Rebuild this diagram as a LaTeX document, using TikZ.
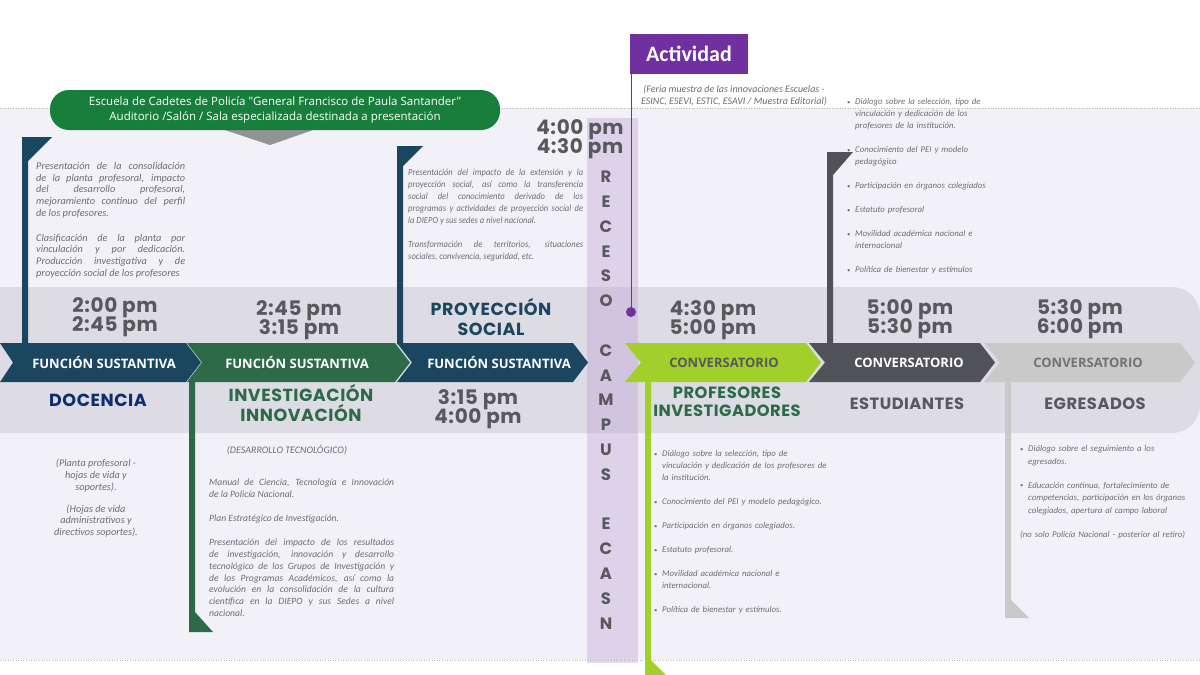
\documentclass[tikz,border=0pt]{standalone}
\usepackage{fontspec}
\setmainfont{Carlito}
\newfontfamily\popf{Poppins}
\newfontfamily\popw[LetterSpace=3]{Poppins}
\newfontfamily\osf{Open Sans}
\newfontfamily\condf[FakeStretch=0.92]{Carlito}
\definecolor{panel}{HTML}{F3F1F8}
\definecolor{band}{HTML}{DDDBE3}
\definecolor{navy}{HTML}{1B4660}
\definecolor{dgreen}{HTML}{2D6A47}
\definecolor{lgreen}{HTML}{A2CF2A}
\definecolor{dgray}{HTML}{505257}
\definecolor{lgray}{HTML}{C9C9C9}
\definecolor{txt}{HTML}{6D6E71}
\definecolor{timec}{HTML}{58595B}
\definecolor{bannerc}{HTML}{177F3B}
\definecolor{purp}{HTML}{7030A0}
\definecolor{docc}{HTML}{0E2D6E}
\definecolor{recc}{RGB}{190,160,215}
\newcommand\chevron[4]{\fill[#1] (#2,343) -- (#3,343) -- (#3+15,362.5) -- (#3,382) -- (#2,382) -- (#2+#4,362.5) -- cycle;}
\newcommand\bitem[1]{\noindent\hangindent=8pt\hangafter=1\makebox[8pt][l]{\raisebox{0.8pt}{\fontsize{6.5}{6.5}\selectfont\textbullet}}#1\par\vspace{12pt}}
\tikzset{
 timelbl/.style={font=\popw\bfseries\fontsize{20}{19}\selectfont, text=timec, align=center, inner sep=0pt},
 caplbl/.style={font=\popw\bfseries\fontsize{17.5}{20}\selectfont, align=center, inner sep=0pt},
 capsm/.style={font=\popw\bfseries\fontsize{16.3}{17.5}\selectfont, align=center, inner sep=0pt},
 chevlbl/.style={font=\osf\bfseries\fontsize{13}{13}\selectfont, text=white, inner sep=0pt},
 bodyA/.style={text=txt, align=justify, inner sep=0pt, anchor=north west},
 bodyB/.style={font=\itshape\fontsize{8.8}{12}\selectfont, text=txt, inner sep=0pt, anchor=north west},
 dotline/.style={draw=gray!55, dotted, line width=0.6pt},
}
\begin{document}
\setlength{\lineskiplimit}{-30pt}
\begin{tikzpicture}[x=1pt,y=-1pt]
\useasboundingbox (0,0) rectangle (1200,675);
\clip (0,0) rectangle (1200,675);
\fill[white] (0,0) rectangle (1200,675);
\fill[panel] (0,108) rectangle (1200,660);
\draw[dotline] (0,108) -- (1200,108);
\draw[dotline] (0,660) -- (1200,660);
\fill[band, rounded corners=28pt] (-60,287) rectangle (1200,433);
% receso column
\fill[recc, opacity=0.38] (587,118) rectangle (638,663);
% flags
\fill[navy] (22,137) -- (52,137) -- (28,161) -- (28,344) -- (22,344) -- cycle;
\fill[navy] (397,146) -- (423,146) -- (403,166) -- (403,344) -- (397,344) -- cycle;
\fill[dgray] (827,152) -- (853,152) -- (833,175) -- (833,344) -- (827,344) -- cycle;
\fill[dgreen] (189,381) -- (195,381) -- (195,612) -- (213,632) -- (189,632) -- cycle;
\fill[lgreen] (645,381) -- (651,381) -- (651,660) -- (666,675) -- (645,675) -- cycle;
\fill[lgray] (1005,381) -- (1011,381) -- (1011,600) -- (1029,618) -- (1005,618) -- cycle;
% chevrons
\chevron{navy}{0}{186}{13}
\chevron{dgreen}{187}{395}{15}
\chevron{navy}{397}{573}{15}
\chevron{lgreen}{625}{806}{16}
\chevron{dgray}{809}{980}{16}
\chevron{lgray}{984}{1180}{16}
\node[chevlbl] (c1) at (104,362.5) {FUNCIÓN SUSTANTIVA};
\node[chevlbl] (c2) at (297,362.5) {FUNCIÓN SUSTANTIVA};
\node[chevlbl] (c3) at (499,362.5) {FUNCIÓN SUSTANTIVA};
\node[chevlbl, text=timec] (c4) at (724,362.5) {CONVERSATORIO};
\node[chevlbl] (c5) at (909,362.5) {CONVERSATORIO};
\node[chevlbl, text=timec!85] (c6) at (1088,362.5) {CONVERSATORIO};
% banner
\fill[gray!85] (222,129) -- (316,129) -- (270,145) -- cycle;
\node[fill=bannerc, rounded corners=19pt, minimum width=450pt, minimum height=40pt, inner sep=0pt,
  text=white, align=center, font=\osf\fontsize{11.5}{15}\selectfont] (banner) at (275,110)
  {Escuela de Cadetes de Policía "General Francisco de Paula Santander"\\Auditorio /Salón / Sala especializada destinada a presentación};
% actividad
\node[fill=purp, minimum width=118pt, minimum height=40pt, inner sep=0pt, text=white,
  font=\bfseries\fontsize{22}{22}\selectfont] (act) at (689,53.5) {Actividad};
\node[font=\itshape\fontsize{10}{12}\selectfont, text=txt, align=center, inner sep=0pt] (feria) at (734,96)
  {(Feria muestra de las innovaciones Escuelas -\\ESINC, ESEVI, ESTIC, ESAVI / Muestra Editorial)};
\coordinate (actdot) at (631,312);
\draw[purp, line width=1pt] (actdot |- act.south) -- (actdot);
\fill[purp] (actdot) circle (5);
% receso text
\node[timelbl] (t4) at (580,139) {4:00 pm\\4:30 pm};
\node[font=\popf\bfseries\fontsize{16.5}{24.8}\selectfont, text=timec, align=center, inner sep=0pt] (receso) at (606,400)
  {R\\E\\C\\E\\S\\O\\\mbox{}\\C\\A\\M\\P\\U\\S\\\mbox{}\\E\\C\\A\\S\\N};
% times and titles
\node[timelbl] (t1) at (115,317) {2:00 pm\\2:45 pm};
\node[timelbl] (t2) at (299,320.5) {2:45 pm\\3:15 pm};
\node[caplbl, text=navy] (proy) at (491,317) {PROYECCIÓN\\SOCIAL};
\node[timelbl] (t5) at (713,320) {4:30 pm\\5:00 pm};
\node[timelbl] (t6) at (910,319) {5:00 pm\\5:30 pm};
\node[timelbl] (t7) at (1080,319) {5:30 pm\\6:00 pm};
\node[caplbl, text=docc] (doc) at (98,400) {DOCENCIA};
\node[caplbl, text=dgreen] (inv) at (301,403) {INVESTIGACIÓN\\INNOVACIÓN};
\node[timelbl] (t3) at (478,409.5) {3:15 pm\\4:00 pm};
\node[capsm, text=dgreen] (prof) at (727,401.5) {PROFESORES\\INVESTIGADORES};
\node[capsm, text=timec] (est) at (907,404) {ESTUDIANTES};
\node[capsm, text=timec] (egr) at (1095,404) {EGRESADOS};
% body texts top
\node[bodyA, font=\itshape\fontsize{10.3}{11.7}\selectfont, text width=149pt] (b1) at (36,162)
  {Presentación de la consolidación\linebreak de la planta profesoral, impacto\linebreak del desarrollo profesoral,\linebreak mejoramiento continuo del perfil\linebreak de los profesores.\par\vspace{13.3pt}
   Clasificación de la planta por\linebreak vinculación y por dedicación.\linebreak Producción investigativa y de\linebreak proyección social de los profesores};
\node[bodyA, font=\condf\itshape\fontsize{9.3}{12}\selectfont, text width=175pt] (b3) at (408,168.5)
  {Presentación del impacto de la extensión y la\linebreak proyección social, así como la transferencia\linebreak social del conocimiento derivado de los\linebreak programas y actividades de proyección social de\linebreak la DIEPO y sus sedes a nivel nacional.\par\vspace{12pt}
   Transformación de territorios, situaciones\linebreak sociales, convivencia, seguridad, etc.};
\node[bodyB, align=left, text width=160pt] (b5) at (847,98.5)
  {\bitem{Diálogo sobre la selección, tipo de\newline vinculación y dedicación de los\newline profesores de la institución.}
   \bitem{Conocimiento del PEI y modelo\newline pedagógico}
   \bitem{Participación en órganos colegiados}
   \bitem{Estatuto profesoral}
   \bitem{Movilidad académica nacional e\newline internacional}
   \bitem{Política de bienestar y estímulos}};
% body texts bottom
\node[font=\itshape\fontsize{10.3}{11.7}\selectfont, text=txt, align=center, inner sep=0pt, anchor=north] (b1b) at (96,459)
  {(Planta profesoral -\\hojas de vida y\\soportes).\\[10.3pt](Hojas de vida\\administrativos y\\directivos soportes).};
\node[font=\itshape\fontsize{10}{11.7}\selectfont, text=txt, inner sep=0pt] (desa) at (287,450) {(DESARROLLO TECNOLÓGICO)};
\node[bodyA, font=\itshape\fontsize{9.6}{11.8}\selectfont, text width=185pt] (b2) at (209,479)
  {Manual de Ciencia, Tecnología e Innovación\linebreak de la Policía Nacional.\par\vspace{12pt}
   Plan Estratégico de Investigación.\par\vspace{12.5pt}
   Presentación del impacto de los resultados\linebreak de investigación, innovación y desarrollo\linebreak tecnológico de los Grupos de Investigación y\linebreak de los Programas Académicos, así como la\linebreak evolución en la consolidación de la cultura\linebreak científica en la DIEPO y sus Sedes a nivel\linebreak nacional.};
\node[bodyB, align=left, text width=180pt] (b4) at (654,450.5)
  {\bitem{Diálogo sobre la selección, tipo de\newline vinculación y dedicación de los profesores de\newline la institución.}
   \bitem{Conocimiento del PEI y modelo pedagógico.}
   \bitem{Participación en órganos colegiados.}
   \bitem{Estatuto profesoral.}
   \bitem{Movilidad académica nacional e\newline internacional.}
   \bitem{Política de bienestar y estímulos.}};
\node[bodyB, align=left, text width=178pt, font=\itshape\fontsize{8.8}{12.3}\selectfont] (b6) at (1020,445.5)
  {\bitem{Diálogo sobre el seguimiento a los\newline egresados.}
   \bitem{Educación continua, fortalecimiento de\newline competencias, participación en los órganos\newline colegiados, apertura al campo laboral}
   \noindent(no solo Policía Nacional - posterior al retiro)};
\end{tikzpicture}
\end{document}
